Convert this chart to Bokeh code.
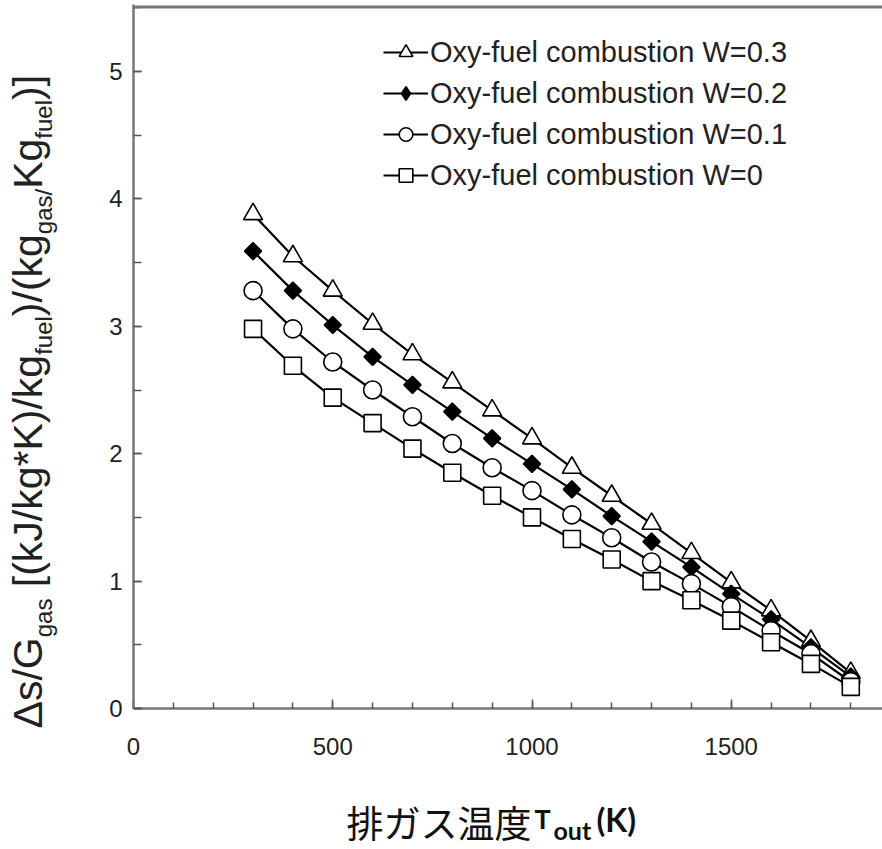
import math
from bokeh.plotting import figure
from bokeh.layouts import row, column
from bokeh.models import (Range1d, SingleIntervalTicker, Span, Label, Legend,
                          LegendItem, ColumnDataSource)
from bokeh.embed import file_html
from bokeh.resources import INLINE

# ---------------- data ----------------
temps = [300, 400, 500, 600, 700, 800, 900, 1000, 1100, 1200, 1300, 1400, 1500, 1600, 1700, 1800]
w03 = [3.88, 3.55, 3.28, 3.02, 2.78, 2.56, 2.34, 2.12, 1.89, 1.67, 1.45, 1.22, 0.99, 0.77, 0.53, 0.28]
w02 = [3.59, 3.28, 3.01, 2.76, 2.54, 2.33, 2.12, 1.92, 1.72, 1.51, 1.31, 1.11, 0.90, 0.70, 0.48, 0.25]
w01 = [3.28, 2.98, 2.72, 2.50, 2.29, 2.08, 1.89, 1.71, 1.52, 1.34, 1.15, 0.98, 0.80, 0.61, 0.43, 0.21]
w00 = [2.98, 2.69, 2.44, 2.24, 2.04, 1.85, 1.67, 1.50, 1.33, 1.17, 1.00, 0.85, 0.69, 0.52, 0.35, 0.17]
labels = ["Oxy-fuel combustion W=0.3", "Oxy-fuel combustion W=0.2",
          "Oxy-fuel combustion W=0.1", "Oxy-fuel combustion W=0"]
x_ticks_major = 500
y_ticks_major = 1

# ---------------- layout constants (page pixels) ----------------
PAGE_W, PAGE_H = 882, 849
LEFT_W = 68
BOTTOM_H = 59
FRAME_L, FRAME_B, FRAME_T, FRAME_R = 133, 708, 4, 882
XS, YS = 0.3985, 127.4
X_END = (FRAME_R - FRAME_L) / XS
Y_END = (FRAME_B - FRAME_T) / YS
MID = 0.35   # middle-anchor offset (fraction of font size above the baseline)

MAIN_W = PAGE_W - LEFT_W
MAIN_H = PAGE_H - BOTTOM_H

p = figure(width=MAIN_W, height=MAIN_H, output_backend="svg", toolbar_location=None,
           x_range=Range1d(0, X_END), y_range=Range1d(0, Y_END),
           min_border_left=FRAME_L - LEFT_W, min_border_right=0,
           min_border_top=FRAME_T, min_border_bottom=MAIN_H - FRAME_B)
p.outline_line_color = None
p.grid.visible = False

AX = "#777777"
for ax in (p.xaxis[0], p.yaxis[0]):
    ax.axis_line_color = AX
    ax.axis_line_width = 2.5
    ax.major_tick_line_color = "#555555"
    ax.minor_tick_line_color = "#555555"
    ax.major_tick_line_width = 1.5
    ax.minor_tick_line_width = 1.5
    ax.major_tick_out = 0
    ax.minor_tick_out = 0
    ax.major_label_text_font = "Liberation Sans"
    ax.major_label_text_font_size = "24px"
    ax.major_label_text_color = "#222222"

p.xaxis[0].ticker = SingleIntervalTicker(interval=x_ticks_major, num_minor_ticks=5)
p.xaxis[0].major_tick_in = 9
p.xaxis[0].minor_tick_in = 6
p.xaxis[0].major_label_standoff = 29
p.yaxis[0].ticker = SingleIntervalTicker(interval=y_ticks_major, num_minor_ticks=2)
p.yaxis[0].major_tick_in = 8
p.yaxis[0].minor_tick_in = 8
p.yaxis[0].major_label_standoff = 11

p.add_layout(Span(location=(FRAME_B - 6.5) / YS, dimension="width",
                  line_color=AX, line_width=3))

series = [w03, w02, w01, w00]
styles = [
    dict(marker="triangle", size=19, fill_color="white", angle=0.0, legend_marker="triangle"),
    dict(marker="square", size=12, fill_color="black", angle=math.pi / 4, legend_marker="diamond"),
    dict(marker="circle", size=18, fill_color="white", angle=0.0, legend_marker="circle"),
    dict(marker="square", size=17, fill_color="white", angle=0.0, legend_marker="square"),
]

line_rs = []
for ys in series:
    src = ColumnDataSource(dict(x=temps, y=ys))
    line_rs.append(p.line("x", "y", source=src, line_color="black", line_width=2.2))

items = []
for ys, st, lab, lr in zip(series, styles, labels, line_rs):
    src = ColumnDataSource(dict(x=temps, y=ys))
    sr = p.scatter("x", "y", source=src, marker=st["marker"], size=st["size"],
                   angle=st["angle"], fill_color=st["fill_color"],
                   line_color="black", line_width=1.6)
    rs = [lr, sr]
    if st["legend_marker"] != st["marker"]:
        dummy = p.scatter(x=[-1000], y=[-1000], marker=st["legend_marker"], size=10,
                          fill_color=st["fill_color"], line_color="black", line_width=1.6)
        rs = [lr, dummy]
    items.append(LegendItem(label=lab, renderers=rs))

leg = Legend(items=items, location=(250, FRAME_B - 35 - 157),
             glyph_width=45, glyph_height=34, spacing=7, padding=0,
             label_standoff=2, label_text_font="Liberation Sans",
             label_text_font_size="29px", label_text_color="#222222",
             border_line_color=None, background_fill_alpha=0, margin=0)
p.add_layout(leg, "center")

# ---------------- y-axis label strip (rotated text with subscripts) ----------------
yfig = figure(width=LEFT_W, height=PAGE_H, output_backend="svg", toolbar_location=None,
              x_range=Range1d(0, LEFT_W), y_range=Range1d(0, PAGE_H),
              x_axis_type=None, y_axis_type=None, min_border=0, title=None)
yfig.outline_line_color = None
yfig.grid.visible = False

W = {"Δ": 668, "s": 500, "/": 278, "G": 778, " ": 278, "[": 278, "(": 333, "k": 500,
     "J": 500, "g": 556, "*": 389, "K": 667, ")": 333, "]": 278, "a": 556, "f": 278,
     "u": 556, "e": 556, "l": 222}
MAIN, SUB = 41, 24
# (text, is_subscript, leading gap in em of the main font)
pieces = [("Δs/G", False, 0), ("gas", True, 0), ("[(kJ/kg*K)/kg", False, 0.278),
          ("fuel", True, 0), (")/(kg", False, 0), ("gas/", True, 0), ("Kg", False, 0),
          ("fuel", True, 0), (")]", False, 0)]
py = 728.0
for txt, sub, gap in pieces:
    fs = SUB if sub else MAIN
    py -= gap * MAIN
    base_x = 51 if sub else 42
    yfig.add_layout(Label(x=base_x - MID * fs, y=PAGE_H - py, text=txt, angle=math.pi / 2,
                          text_font="Liberation Sans", text_font_size=f"{fs}px",
                          text_color="#222222", text_align="left",
                          text_baseline="middle"))
    py -= sum(W[c] for c in txt) / 1000.0 * fs

# ---------------- x-axis label strip (frame aligned with the plot frame) ----------------
xfig = figure(width=MAIN_W, height=BOTTOM_H, output_backend="svg", toolbar_location=None,
              x_range=Range1d(FRAME_L, PAGE_W), y_range=Range1d(0, BOTTOM_H),
              x_axis_type=None, y_axis_type=None, min_border=0,
              min_border_left=FRAME_L - LEFT_W, title=None)
xfig.outline_line_color = None
xfig.grid.visible = False

def xlabel(x, base_y, text, font, size, bold):
    xfig.add_layout(Label(x=x, y=PAGE_H - (base_y - MID * size), text=text,
                          text_font=font, text_font_size=f"{size}px",
                          text_font_style="bold" if bold else "normal",
                          text_color="#111111", text_baseline="middle"))

xlabel(346, 834, "排ガス温度", "Noto Sans CJK JP", 37, False)
xlabel(534, 827, "T", "Lato", 27, True)
xlabel(553, 838, "out", "Lato", 25, True)
xlabel(596, 830, "(K)", "Lato", 32, True)

layout = row(yfig, column(p, xfig, spacing=0), spacing=0)
open("out.html", "w").write(file_html(layout, INLINE))
